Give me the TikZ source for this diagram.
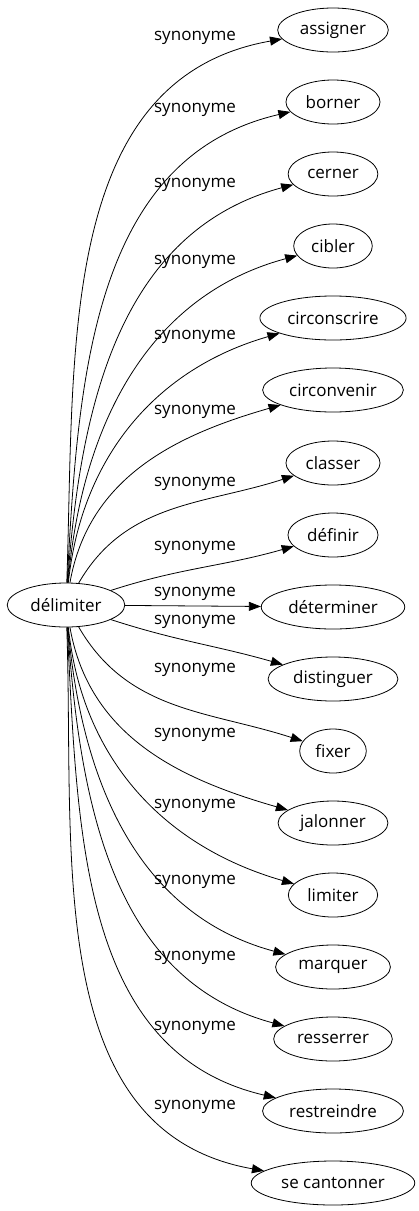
\documentclass[tikz,border=0pt]{standalone}
\usepackage{fontspec}
\setmainfont{Open Sans}
\usetikzlibrary{shapes.geometric,arrows.meta}

\begin{document}
\begin{tikzpicture}[x=1pt,y=-1pt,
    mot/.style={draw,ellipse,line width=0.8pt,inner xsep=6pt,inner ysep=0pt,minimum height=44pt,font=\fontsize{17}{20}\selectfont},
    syn/.style={font=\fontsize{17}{20}\selectfont},
    lien/.style={line width=0.8pt,-{Triangle[length=12pt,width=9pt]}}]
      \useasboundingbox (0,0) rectangle (418,1211);
      % le mot de depart
      \node[mot] (delimiter) at (66,605) {délimiter};
      % les synonymes
      \node[mot] (assigner) at (333,30) {assigner};
      \node[mot] (borner) at (333,102) {borner};
      \node[mot] (cerner) at (333,174) {cerner};
      \node[mot] (cibler) at (333,246) {cibler};
      \node[mot] (circonscrire) at (333,318) {circonscrire};
      \node[mot] (circonvenir) at (333,390) {circonvenir};
      \node[mot] (classer) at (333,463) {classer};
      \node[mot] (definir) at (333,535) {définir};
      \node[mot] (determiner) at (333,607) {déterminer};
      \node[mot] (distinguer) at (333,679) {distinguer};
      \node[mot] (fixer) at (333,751) {fixer};
      \node[mot] (jalonner) at (333,823) {jalonner};
      \node[mot] (limiter) at (333,895) {limiter};
      \node[mot] (marquer) at (333,967) {marquer};
      \node[mot] (resserrer) at (333,1039) {resserrer};
      \node[mot] (restreindre) at (333,1111) {restreindre};
      \node[mot] (secantonner) at (333,1183) {se cantonner};
      % les liens
      \draw[lien] (delimiter) to[out=88,in=190] (assigner);
      \draw[lien] (delimiter) to[out=87,in=193] (borner);
      \draw[lien] (delimiter) to[out=86,in=195] (cerner);
      \draw[lien] (delimiter) to[out=85,in=195] (cibler);
      \draw[lien] (delimiter) to[out=84,in=196] (circonscrire);
      \draw[lien] (delimiter) to[out=80,in=196] (circonvenir);
      \draw[lien] (delimiter) to[out=60,in=198] (classer);
      \draw[lien] (delimiter) to[out=18,in=196] (definir);
      \draw[lien] (delimiter) -- (determiner);
      \draw[lien] (delimiter) to[out=-18,in=164] (distinguer);
      \draw[lien] (delimiter) to[out=-60,in=162] (fixer);
      \draw[lien] (delimiter) to[out=-80,in=164] (jalonner);
      \draw[lien] (delimiter) to[out=-84,in=164] (limiter);
      \draw[lien] (delimiter) to[out=-85,in=165] (marquer);
      \draw[lien] (delimiter) to[out=-86,in=165] (resserrer);
      \draw[lien] (delimiter) to[out=-87,in=167] (restreindre);
      \draw[lien] (delimiter) to[out=-88,in=170] (secantonner);
      % les etiquettes
      \node[syn] (lassigner) at (195,38) {synonyme};
      \node[syn] (lborner) at (195,110) {synonyme};
      \node[syn] (lcerner) at (195,185) {synonyme};
      \node[syn] (lcibler) at (195,262) {synonyme};
      \node[syn] (lcirconscrire) at (195,337) {synonyme};
      \node[syn] (lcirconvenir) at (195,412) {synonyme};
      \node[syn] (lclasser) at (195,484) {synonyme};
      \node[syn] (ldefinir) at (195,548) {synonyme};
      \node[syn] (ldeterminer) at (195,594) {synonyme};
      \node[syn] (ldistinguer) at (195,622) {synonyme};
      \node[syn] (lfixer) at (195,670) {synonyme};
      \node[syn] (ljalonner) at (195,735) {synonyme};
      \node[syn] (llimiter) at (195,806) {synonyme};
      \node[syn] (lmarquer) at (195,882) {synonyme};
      \node[syn] (lresserrer) at (195,958) {synonyme};
      \node[syn] (lrestreindre) at (195,1028) {synonyme};
      \node[syn] (lsecantonner) at (195,1107) {synonyme};
\end{tikzpicture}
\end{document}
